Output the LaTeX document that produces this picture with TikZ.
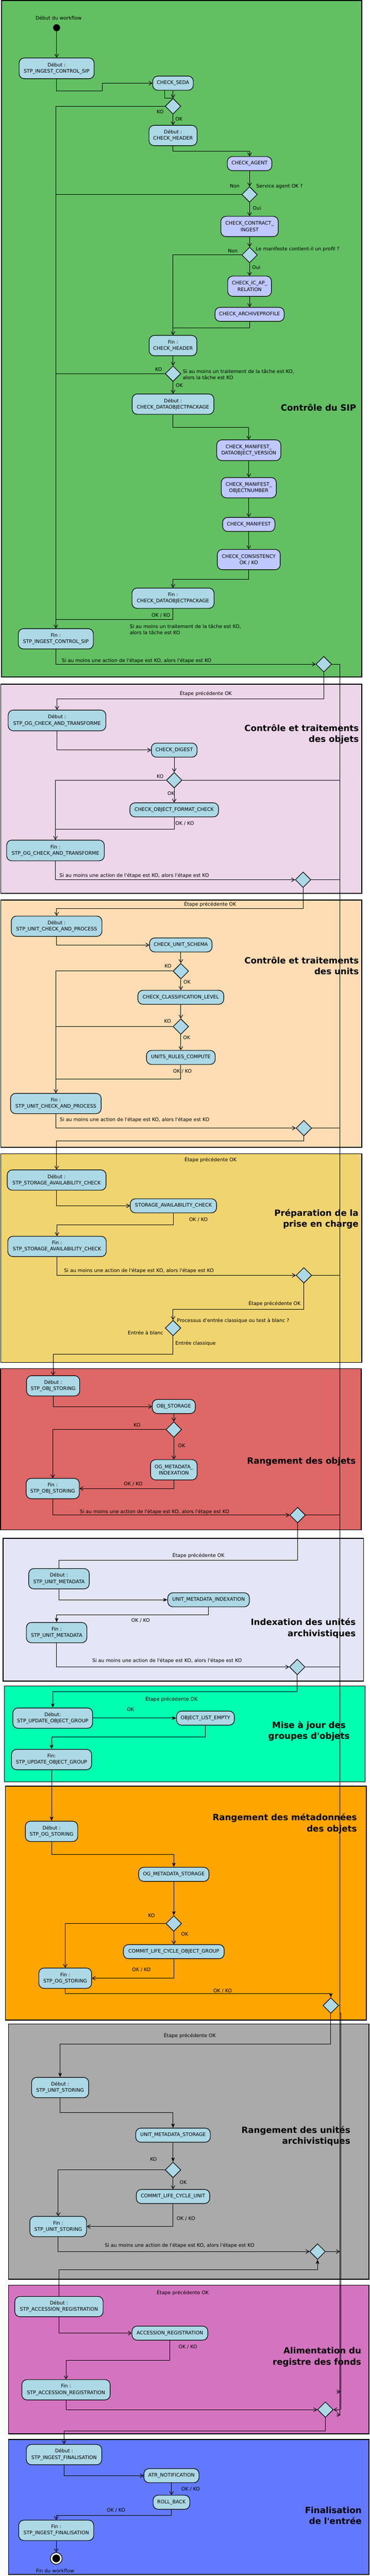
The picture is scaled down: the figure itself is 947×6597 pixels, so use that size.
\documentclass[tikz,border=0pt]{standalone}
\usepackage{fontspec}
\setmainfont{DejaVu Sans}
\usepackage{tikz}
\usetikzlibrary{arrows.meta}
\usetikzlibrary{shapes.geometric}
\usetikzlibrary{positioning}
\usepackage{color}
\definecolor{sipgreen}{RGB}{98, 192, 99}
\definecolor{objpink}{RGB}{237, 213, 234}
\definecolor{unitpeach}{RGB}{255, 221, 180}
\definecolor{prepyellow}{RGB}{240, 212, 112}
\definecolor{storred}{RGB}{222, 103, 103}
\definecolor{idxlavender}{RGB}{229, 229, 248}
\definecolor{grpmint}{RGB}{0, 255, 176}
\definecolor{metaorange}{RGB}{255, 165, 0}
\definecolor{unitgray}{RGB}{170, 170, 170}
\definecolor{regorchid}{RGB}{212, 116, 192}
\definecolor{finblue}{RGB}{98, 121, 255}
\definecolor{actblue}{RGB}{173, 216, 230}
\definecolor{chkpurple}{RGB}{191, 200, 255}
\newcommand{\actfont}{\fontsize{12.5}{16}\selectfont}
\newcommand{\stagefont}{\fontsize{22}{28}\selectfont\bfseries}
\newcommand{\apos}{\textquotesingle}
\newcommand{\stepko}{Si au moins une action de l\apos étape est KO, alors l\apos étape est KO}
\newcommand{\taskko}{Si au moins un traitement de la tâche est KO,\\alors la tâche est KO}

\begin{document}
\begin{tikzpicture}[x=1pt, y=-1pt,
        act/.style={draw, line width=1.5pt, rounded corners=13pt, fill=actblue, align=center, inner sep=2pt, font=\actfont},
        chk/.style={act, fill=chkpurple},
        dims/.style 2 args={minimum width=#1pt, minimum height=#2pt},
        dec/.style={draw, diamond, line width=1.5pt, fill=actblue, minimum width=40pt, minimum height=40pt, inner sep=0pt},
        lbl/.style={font=\actfont, inner sep=0pt},
        stage/.style={font=\stagefont, align=right, inner sep=0pt},
        lane/.style={draw, line width=2pt},
        wire/.style={line width=1.3pt},
        flow/.style={wire, -{Straight Barb[length=8pt,width=10pt]}},
        flowf/.style={wire, -{Stealth[length=11pt,width=9pt,inset=3pt]}}]
            \useasboundingbox (0,0) rectangle (947,6597);
            % Lanes
            \draw[lane, fill=sipgreen]    (4,1)     rectangle (926,1734);
            \draw[lane, fill=objpink]     (2,1752)  rectangle (926,2288);
            \draw[lane, fill=unitpeach]   (2,2305)  rectangle (926,2938);
            \draw[lane, fill=prepyellow]  (2,2955)  rectangle (926,3489);
            \draw[lane, fill=storred]     (1,3505)  rectangle (925,3918);
            \draw[lane, fill=idxlavender] (8,3940)  rectangle (931,4305);
            \draw[lane, fill=grpmint]     (11,4318) rectangle (935,4563);
            \draw[lane, fill=metaorange]  (14,4574) rectangle (938,5173);
            \draw[lane, fill=unitgray]    (22,5183) rectangle (945,5837);
            \draw[lane, fill=regorchid]   (22,5852) rectangle (945,6233);
            \draw[lane, fill=finblue]     (22,6247) rectangle (945,6593);
            % Lane titles
            \node[stage, anchor=east]   (tSip)  at (912,1044) {Contrôle du SIP};
            \node[stage, anchor=east]   (tObj)  at (919,1880) {Contrôle et traitements\\des objets};
            \node[stage, anchor=east]   (tUnit) at (919,2473) {Contrôle et traitements\\des units};
            \node[stage, anchor=east]   (tPrep) at (918,3122) {Préparation de la\\prise en charge};
            \node[stage, anchor=east]   (tStor) at (911,3743) {Rangement des objets};
            \node[stage, anchor=east]   (tIdx)  at (911,4170) {Indexation des unités\\archivistiques};
            \node[stage, align=center]  (tGrp)  at (791,4433) {Mise à jour des\\groupes d\apos objets};
            \node[stage, anchor=east]   (tMeta) at (914,4670) {Rangement des métadonnées\\des objets};
            \node[stage, anchor=east]   (tUsto) at (897,5470) {Rangement des unités\\archivistiques};
            \node[stage, anchor=east]   (tReg)  at (925,6036) {Alimentation du\\registre des fonds};
            \node[stage, anchor=east]   (tFin)  at (926,6442) {Finalisation\\de l\apos entrée};

            % Controle du SIP
            \node[lbl] (lWfStart) at (150,46) {Début du workflow};
            \node[circle, fill=black, minimum size=18pt, inner sep=0pt] (init) at (145,71) {};
            \node[act, dims={192}{53}] (sipStart) at (145,175)  {Début :\\STP\_INGEST\_CONTROL\_SIP};
            \node[act, dims={104}{36}] (seda)     at (443,213)  {CHECK\_SEDA};
            \node[dec]                 (dSeda)    at (443,272)  {};
            \node[act, dims={123}{52}] (hdrStart) at (443,347)  {Début :\\CHECK\_HEADER};
            \node[chk, dims={114}{36}] (agent)    at (639,419)  {CHECK\_AGENT};
            \node[dec]                 (dAgent)   at (639,498)  {};
            \node[chk, dims={147}{52}] (contract) at (639,580)  {CHECK\_CONTRACT\_\\INGEST};
            \node[dec]                 (dProfil)  at (639,653)  {};
            \node[chk, dims={112}{52}] (icap)     at (639,733)  {CHECK\_IC\_AP\_\\RELATION};
            \node[chk, dims={177}{36}] (archprof) at (639,805)  {CHECK\_ARCHIVEPROFILE};
            \node[act, dims={122}{52}] (hdrEnd)   at (443,885)  {Fin :\\CHECK\_HEADER};
            \node[dec]                 (dHdr)     at (443,957)  {};
            \node[act, dims={209}{52}] (dopStart) at (443,1035) {Début :\\CHECK\_DATAOBJECTPACKAGE};
            \node[chk, dims={164}{53}] (mdov)     at (637,1153) {CHECK\_MANIFEST\_\\DATAOBJECT\_VERSION};
            \node[chk, dims={141}{52}] (mon)      at (637,1249) {CHECK\_MANIFEST\_\\OBJECTNUMBER};
            \node[chk, dims={134}{36}] (manif)    at (637,1343) {CHECK\_MANIFEST};
            \node[chk, dims={161}{52}] (consist)  at (637,1433) {CHECK\_CONSISTENCY\\OK / KO};
            \node[act, dims={210}{52}] (dopEnd)   at (443,1532) {Fin :\\CHECK\_DATAOBJECTPACKAGE};
            \node[act, dims={192}{52}] (sipEnd)   at (143,1636) {Fin :\\STP\_INGEST\_CONTROL\_SIP};
            \node[dec]                 (dSip)     at (829,1701) {};
            \node[lbl] (lKoSeda)  at (410,286) {KO};
            \node[lbl] (lOkSeda)  at (458,305) {OK};
            \node[lbl] (lNonAg)   at (601,476) {Non};
            \node[lbl, anchor=west] (qAgent) at (656,477) {Service agent OK ?};
            \node[lbl] (lOuiAg)   at (658,533) {Oui};
            \node[lbl] (lNonPr)   at (596,643) {Non};
            \node[lbl, anchor=west] (qProfil) at (655,638) {Le manifeste contient-il un profil ?};
            \node[lbl] (lOuiPr)   at (656,685) {Oui};
            \node[lbl] (lKoHdr)   at (406,946) {KO};
            \node[lbl, anchor=west, align=left] (nHdr) at (468,959) {\taskko};
            \node[lbl] (lOkHdr)   at (459,987) {OK};
            \node[lbl] (lOkKoDop) at (412,1576) {OK / KO};
            \node[lbl, anchor=west, align=left] (nSip) at (332,1612) {\taskko};
            \node[lbl, anchor=west] (nSipStep) at (158,1693) {\stepko};
            \draw[flow] (init) -- (sipStart);
            \draw[flow] (sipStart.south) -- ++(0,30) -| (262,213) -- (seda.west);
            \draw[flow] (seda.south) -- (dSeda.north);
            \draw[wire] (422,231) |- (dSeda.north);
            \draw[flow] (dSeda.west) -| (sipEnd.north);
            \draw[flow] (dSeda.south) -- (hdrStart.north);
            \draw[flow] (hdrStart.south) -- ++(0,14) -| (agent.north);
            \draw[flow] (agent.south) -- (dAgent.north);
            \draw[wire] (dAgent.west) -- (dAgent.west -| sipEnd.north);
            \draw[flow] (dAgent.south) -- (contract.north);
            \draw[flow] (contract.south) -- (dProfil.north);
            \draw[flow] (dProfil.west) -| (hdrEnd.north);
            \draw[flow] (dProfil.south) -- (icap.north);
            \draw[flow] (icap.south) -- (archprof.north);
            \draw[wire] (archprof.south) -- ++(0,16) -| (hdrEnd.north);
            \draw[flow] (hdrEnd.south) -- (dHdr.north);
            \draw[wire] (dHdr.west) -- (dHdr.west -| sipEnd.north);
            \draw[flow] (dHdr.south) -- (dopStart.north);
            \draw[flow] (dopStart.south) -- ++(0,33) -| (mdov.north);
            \draw[flow] (mdov.south) -- (mon.north);
            \draw[flow] (mon.south) -- (manif.north);
            \draw[flow] (manif.south) -- (consist.north);
            \draw[flow] (consist.south) -- ++(0,24) -| (dopEnd.north);
            \draw[wire] (dopEnd.south) -- ++(0,28) -| (sipEnd.north);
            \draw[flow] (sipEnd.south) |- (dSip.west);

            % Controle et traitements des objets
            \node[act, dims={250}{53}] (ogStart) at (146,1845) {Début :\\STP\_OG\_CHECK\_AND\_TRANSFORME};
            \node[act, dims={117}{36}] (digest)  at (446,1921) {CHECK\_DIGEST};
            \node[dec]                 (dDigest) at (446,1998) {};
            \node[act, dims={227}{36}] (fmt)     at (446,2074) {CHECK\_OBJECT\_FORMAT\_CHECK};
            \node[act, dims={250}{53}] (ogEnd)   at (142,2178) {Fin :\\STP\_OG\_CHECK\_AND\_TRANSFORME};
            \node[dec]                 (dOg)     at (776,2253) {};
            \node[lbl] (lPrevOg)  at (527,1776) {Étape précédente OK};
            \node[lbl] (lKoDig)   at (410,1988) {KO};
            \node[lbl] (lOkDig)   at (438,2032) {OK};
            \node[lbl] (lOkKoFmt) at (473,2109) {OK / KO};
            \node[lbl, anchor=west] (nOgStep) at (152,2243) {\stepko};
            \draw[flow] (dSip.south) -- ++(0,68) -| (ogStart.north);
            \draw[flow] (ogStart.south) |- (digest.west);
            \draw[flow] (digest.south) -- (dDigest.north);
            \draw[flow] (dDigest.west) -| (ogEnd.north);
            \draw[flow] (dDigest.south) -- (fmt.north);
            \draw[wire] (fmt.south) -- ++(0,31) -| (ogEnd.north);
            \draw[flow] (ogEnd.south) |- (dOg.west);

            % Controle et traitements des units
            \node[act, dims={232}{52}] (unitStart) at (145,2372) {Début :\\STP\_UNIT\_CHECK\_AND\_PROCESS};
            \node[act, dims={160}{36}] (schema)    at (463,2420) {CHECK\_UNIT\_SCHEMA};
            \node[dec]                 (dSchema)   at (463,2487) {};
            \node[act, dims={220}{36}] (classif)   at (463,2554) {CHECK\_CLASSIFICATION\_LEVEL};
            \node[dec]                 (dClassif)  at (463,2629) {};
            \node[act, dims={176}{36}] (rules)     at (463,2708) {UNITS\_RULES\_COMPUTE};
            \node[act, dims={232}{52}] (unitEnd)   at (143,2826) {Fin :\\STP\_UNIT\_CHECK\_AND\_PROCESS};
            \node[dec]                 (dUnit)     at (778,2889) {};
            \node[lbl] (lPrevUnit)  at (538,2315) {Étape précédente OK};
            \node[lbl] (lKoSchema)  at (430,2474) {KO};
            \node[lbl] (lOkSchema)  at (479,2515) {OK};
            \node[lbl] (lKoClassif) at (429,2615) {KO};
            \node[lbl] (lOkClassif) at (478,2657) {OK};
            \node[lbl] (lOkKoRules) at (467,2743) {OK / KO};
            \node[lbl, anchor=west] (nUnitStep) at (153,2868) {\stepko};
            \draw[flow] (dOg.south) -- ++(0,53) -| (unitStart.north);
            \draw[flow] (unitStart.south) |- (schema.west);
            \draw[flow] (schema.south) -- (dSchema.north);
            \draw[flow] (dSchema.west) -| (unitEnd.north);
            \draw[flow] (dSchema.south) -- (classif.north);
            \draw[flow] (classif.south) -- (dClassif.north);
            \draw[wire] (dClassif.west) -- (dClassif.west -| unitEnd.north);
            \draw[flow] (dClassif.south) -- (rules.north);
            \draw[wire] (rules.south) -- ++(0,37) -| (unitEnd.north);
            \draw[flow] (unitEnd.south) |- (dUnit.west);

            % Preparation de la prise en charge
            \node[act, dims={253}{52}] (storStart) at (145,3022) {Début :\\STP\_STORAGE\_AVAILABILITY\_CHECK};
            \node[act, dims={221}{36}] (stor)      at (444,3088) {STORAGE\_AVAILABILITY\_CHECK};
            \node[act, dims={252}{52}] (storEnd)   at (146,3192) {Fin :\\STP\_STORAGE\_AVAILABILITY\_CHECK};
            \node[dec]                 (dStor)     at (778,3266) {};
            \node[dec]                 (dMode)     at (443,3401) {};
            \node[lbl] (lPrevStor) at (539,2970) {Étape précédente OK};
            \node[lbl] (lOkKoStor) at (508,3124) {OK / KO};
            \node[lbl, anchor=west] (nStorStep) at (164,3255) {\stepko};
            \node[lbl] (lPrevMode) at (703,3338) {Étape précédente OK};
            \node[lbl, anchor=west] (qMode)  at (453,3383) {Processus d\apos entrée classique ou test à blanc ?};
            \node[lbl, anchor=east] (lBlanc) at (418,3413) {Entrée à blanc};
            \node[lbl, anchor=west] (lClass) at (449,3441) {Entrée classique};
            \draw[flow] (dUnit.south) -- ++(0,12) -| (storStart.north);
            \draw[flow] (storStart.south) |- (stor.west);
            \draw[flow] (stor.south) -- ++(0,30) -| (storEnd.north);
            \draw[flow] (storEnd.south) |- (dStor.west);
            \draw[flow] (dStor.south) -- ++(0,67) -| (dMode.north);

            % Rangement des objets
            \node[act, dims={136}{52}] (objStart) at (136,3549) {Début :\\STP\_OBJ\_STORING};
            \node[act, dims={110}{36}] (objStor)  at (445,3602) {OBJ\_STORAGE};
            \node[dec]                 (dObj)     at (445,3661) {};
            \node[act, dims={119}{52}] (ogIdx)    at (445,3764) {OG\_METADATA\_\\INDEXATION};
            \node[act, dims={136}{52}] (objEnd)   at (135,3812) {Fin :\\STP\_OBJ\_STORING};
            \node[dec]                 (dObjStep) at (762,3880) {};
            \node[lbl] (lKoObj)   at (351,3649) {KO};
            \node[lbl] (lOkObj)   at (465,3702) {OK};
            \node[lbl] (lOkKoIdx) at (341,3800) {OK / KO};
            \node[lbl, anchor=west] (nObjStep) at (204,3872) {\stepko};
            \draw[flow] (dMode.south) -- ++(0,46) -| (objStart.north);
            \draw[flow] (objStart.south) |- (objStor.west);
            \draw[flow] (objStor.south) -- (dObj.north);
            \draw[flow] (dObj.west) -| (objEnd.north);
            \draw[flow] (dObj.south) -- (ogIdx.north);
            \draw[flow] (ogIdx.south) |- (objEnd.east);
            \draw[flow] (objEnd.south) |- (dObjStep.west);

            % Indexation des unites archivistiques
            \node[act, dims={155}{52}] (umStart) at (151,4043) {Début :\\STP\_UNIT\_METADATA};
            \node[act, dims={209}{36}] (umIdx)   at (534,4097) {UNIT\_METADATA\_INDEXATION};
            \node[act, dims={155}{52}] (umEnd)   at (145,4181) {Fin :\\STP\_UNIT\_METADATA};
            \node[dec]                 (dUm)     at (761,4269) {};
            \node[lbl] (lPrevUm)  at (508,3983) {Étape précédente OK};
            \node[lbl] (lOkKoUm)  at (360,4150) {OK / KO};
            \node[lbl, anchor=west] (nUmStep) at (236,4253) {\stepko};
            \draw[wire]  (dObjStep.south) -- ++(0,95) -| (umStart.north);
            \draw[flowf] (umStart.south) |- (umIdx.west);
            \draw[flowf] (umIdx.south) -- ++(0,20) -| (umEnd.north);
            \draw[flow]  (umEnd.south) |- (dUm.west);

            % Mise a jour des groupes d'objets
            \node[act, dims={204}{52}] (ogrStart) at (135,4400) {Début:\\STP\_UPDATE\_OBJECT\_GROUP};
            \node[act, dims={148}{36}] (olEmpty)  at (526,4400) {OBJECT\_LIST\_EMPTY};
            \node[act, dims={205}{52}] (ogrEnd)   at (132,4506) {Fin:\\STP\_UPDATE\_OBJECT\_GROUP};
            \node[lbl] (lPrevOgr) at (439,4351) {Étape précédente OK};
            \node[lbl] (lOkOgr)   at (334,4378) {OK};
            \draw[flowf] (dUm.south) -- ++(0,42) -| (ogrStart.north);
            \draw[flowf] (ogrStart.east) -- (olEmpty.west);
            \draw[flowf] (olEmpty.south) -- ++(0,30) -| (ogrEnd.north);

            % Rangement des metadonnees des objets
            \node[act, dims={134}{52}] (ogsStart) at (132,4690) {Début :\\STP\_OG\_STORING};
            \node[act, dims={180}{36}] (ogMeta)   at (445,4800) {OG\_METADATA\_STORAGE};
            \node[dec]                 (dOgs)     at (445,4926) {};
            \node[act, dims={258}{36}] (commitOg) at (445,4998) {COMMIT\_LIFE\_CYCLE\_OBJECT\_GROUP};
            \node[act, dims={135}{52}] (ogsEnd)   at (167,5066) {Fin :\\STP\_OG\_STORING};
            \node[dec]                 (dOgsStep) at (847,5136) {};
            \node[lbl] (lKoOgs)    at (388,4906) {KO};
            \node[lbl] (lOkOgs)    at (473,4953) {OK};
            \node[lbl] (lOkKoCom)  at (362,5045) {OK / KO};
            \node[lbl] (lOkKoOgs)  at (570,5098) {OK / KO};
            \draw[flowf] (ogrEnd.south) -- (ogsStart.north);
            \draw[flowf] (ogsStart.south) -- ++(0,33) -| (ogMeta.north);
            \draw[flowf] (ogMeta.south) -- (dOgs.north);
            \draw[flow]  (dOgs.west) -| (ogsEnd.north);
            \draw[flow]  (dOgs.south) -- (commitOg.north);
            \draw[flow]  (commitOg.south) |- (ogsEnd.east);
            \draw[flowf] (ogsEnd.south) -- ++(0,12) -| (dOgsStep.north);

            % Rangement des unites archivistiques
            \node[act, dims={146}{52}] (usStart) at (154,5346) {Début :\\STP\_UNIT\_STORING};
            \node[act, dims={191}{36}] (umStor)  at (443,5468) {UNIT\_METADATA\_STORAGE};
            \node[dec]                 (dUs)     at (443,5557) {};
            \node[act, dims={188}{36}] (commitU) at (443,5625) {COMMIT\_LIFE\_CYCLE\_UNIT};
            \node[act, dims={145}{52}] (usEnd)   at (149,5702) {Fin :\\STP\_UNIT\_STORING};
            \node[dec]                 (dUsStep) at (813,5766) {};
            \node[lbl] (lPrevUs)  at (486,5213) {Étape précédente OK};
            \node[lbl] (lKoUs)    at (393,5529) {KO};
            \node[lbl] (lOkUs)    at (469,5589) {OK};
            \node[lbl] (lOkKoUs)  at (476,5682) {OK / KO};
            \node[lbl, anchor=west] (nUsStep) at (268,5751) {\stepko};
            \draw[flowf] (dOgsStep.south) -- ++(0,78) -| (usStart.north);
            \draw[flowf] (usStart.south) -- ++(0,38) -| (umStor.north);
            \draw[flowf] (umStor.south) -- (dUs.north);
            \draw[flow]  (dUs.west) -| (usEnd.north);
            \draw[flow]  (dUs.south) -- (commitU.north);
            \draw[flow]  (commitU.south) |- (usEnd.east);
            \draw[flow]  (usEnd.south) |- (dUsStep.west);

            % Alimentation du registre des fonds
            \node[act, dims={226}{52}] (accStart) at (151,5907) {Début :\\STP\_ACCESSION\_REGISTRATION};
            \node[act, dims={194}{36}] (acc)      at (435,5975) {ACCESSION\_REGISTRATION};
            \node[act, dims={226}{52}] (accEnd)   at (169,6120) {Fin :\\STP\_ACCESSION\_REGISTRATION};
            \node[dec]                 (dAcc)     at (833,6171) {};
            \node[lbl] (lPrevAcc) at (468,5872) {Étape précédente OK};
            \node[lbl] (lOkKoAcc) at (481,6010) {OK / KO};
            \draw[flowf] (accStart.north) -- ++(0,-68) -| (dUsStep.south);
            \draw[flow] (accStart.south) |- (acc.west);
            \draw[flow] (acc.south) -- ++(0,51) -| (accEnd.north);
            \draw[flow] (accEnd.south) |- (dAcc.west);

            % Finalisation de l'entree
            \node[act, dims={193}{52}] (finStart) at (164,6286) {Début :\\STP\_INGEST\_FINALISATION};
            \node[act, dims={141}{36}] (atr)      at (439,6340) {ATR\_NOTIFICATION};
            \node[act, dims={94}{36}]  (rollback) at (439,6408) {ROLL\_BACK};
            \node[act, dims={192}{52}] (finEnd)   at (144,6480) {Fin :\\STP\_INGEST\_FINALISATION};
            \node[circle, draw, line width=1.5pt, fill=white, minimum size=30pt, inner sep=0pt] (final) at (144,6552) {};
            \node[circle, fill=black, minimum size=20pt, inner sep=0pt] (finalDot) at (final) {};
            \node[lbl] (lOkKoAtr)  at (488,6375) {OK / KO};
            \node[lbl] (lOkKoRoll) at (297,6429) {OK / KO};
            \node[lbl] (lWfEnd)    at (141,6584) {Fin du workflow};
            \draw[flow] (dAcc.south) -- ++(0,34) -| (finStart.north);
            \draw[flow] (finStart.south) |- (atr.west);
            \draw[flow] (atr.south) -- (rollback.north);
            \draw[flow] (rollback.south) -- ++(0,15) -| (finEnd.north);
            \draw[flow] (finEnd.south) -- (final.north);

            % KO bus on the right
            \coordinate (busTop)  at (870,1701);
            \coordinate (busEnd)  at (870,6184);
            \coordinate (busTwin) at (873,5155);
            \coordinate (tipA)    at (862,6125);
            \coordinate (tipB)    at (862,6184);
            \draw[wire] (busTop) -- (busEnd);
            \draw[wire] (busTwin -| busTop) -- (busTwin) -- (busTwin |- dAcc.east);
            \draw[wire] (dSip.east)     -- (dSip.east -| busTop);
            \draw[wire] (dDigest.east)  -- (dDigest.east -| busTop);
            \draw[wire] (dOg.east)      -- (dOg.east -| busTop);
            \draw[wire] (dUnit.east)    -- (dUnit.east -| busTop);
            \draw[wire] (dStor.east)    -- (dStor.east -| busTop);
            \draw[wire] (dObjStep.east) -- (dObjStep.east -| busTop);
            \draw[wire] (dUm.east)      -- (dUm.east -| busTop);
            \draw[wire] (dOgsStep.east) -- (dOgsStep.east -| busTop);
            \draw[flow] (dUsStep.east)  -- (dUsStep.east -| busTop);
            \draw[flow] (dAcc.east -| busTop) -- (dAcc.east);
            \draw[flow] (tipA) -- ++(10,0);
            \draw[flow] (tipB) -- ++(10,0);
        \end{tikzpicture}
\end{document}
